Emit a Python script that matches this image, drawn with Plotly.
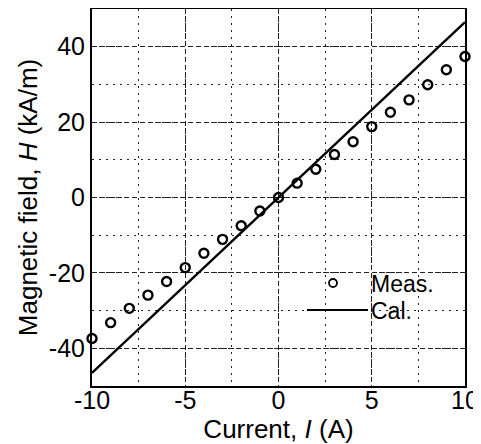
import plotly.graph_objects as go

# Data
meas_current = [-10, -9, -8, -7, -6, -5, -4, -3, -2, -1, 0, 1, 2, 3, 4, 5, 6, 7, 8, 9, 10]
meas_field = [-37.4, -33.2, -29.4, -25.9, -22.3, -18.6, -14.8, -11.1, -7.5, -3.6, 0.0,
              3.8, 7.5, 11.4, 14.8, 18.8, 22.6, 25.9, 29.9, 33.9, 37.4]
cal_current = [-10, 10]
cal_field = [-46.5, 46.5]

x_ticks = [-10, -5, 0, 5, 10]
y_ticks = [-40, -20, 0, 20, 40]
legend_labels = ["Meas.", "Cal."]

FONT = "Liberation Sans, Arial, sans-serif"
GRID = "#222222"

# The page body adds an 8px offset; figure is sized to fit the 481x444 window
OFF = 8
W, H = 481 - OFF, 444 - OFF
# plot area edges in window pixels (from reference)
L, R, T, B = 92, 465, 9, 386

fig = go.Figure()
fig.add_trace(go.Scatter(
    x=cal_current, y=cal_field, mode="lines", name=legend_labels[1],
    line=dict(color="black", width=2.4), showlegend=False, cliponaxis=True))
fig.add_trace(go.Scatter(
    x=meas_current, y=meas_field, mode="markers", name=legend_labels[0],
    marker=dict(symbol="circle-open", size=9, color="black", line=dict(width=2.4, color="black")),
    showlegend=False, cliponaxis=False))

axis_common = dict(
    showline=True, linecolor="black", linewidth=2, mirror=True,
    showgrid=True, gridcolor=GRID, gridwidth=1, griddash="5px,3px",
    zeroline=False, ticks="", color="black", automargin=False,
    tickfont=dict(family=FONT, size=25, color="black"),
)

fig.update_xaxes(
    range=[-10, 10], tickvals=x_ticks, ticktext=[str(v) for v in x_ticks],
    ticklabelstandoff=-9,
    minor=dict(dtick=2.5, tick0=0, showgrid=True, gridcolor=GRID, gridwidth=1, griddash="2px,5px"),
    title=dict(text="Current, <i>I</i> (A)", font=dict(family=FONT, size=26, color="black"), standoff=0),
    **axis_common)
fig.update_yaxes(
    range=[-50, 50], tickvals=y_ticks, ticktext=[str(v) for v in y_ticks],
    minor=dict(dtick=10, tick0=0, showgrid=True, gridcolor=GRID, gridwidth=1, griddash="2px,5px"),
    title=dict(text="Magnetic field, <i>H</i> (kA/m)", font=dict(family=FONT, size=26, color="black"), standoff=4),
    **axis_common)

# Manual legend (layout decoration in paper coordinates)
def px(x):
    return (x - L) / (R - L)
def py(y):
    return (B - y) / (B - T)

fig.add_shape(type="circle", xref="paper", yref="paper",
              xsizemode="pixel", ysizemode="pixel",
              xanchor=px(333), yanchor=py(283), x0=-4, x1=4, y0=-4, y1=4,
              line=dict(color="black", width=1.8))
fig.add_shape(type="line", xref="paper", yref="paper",
              x0=px(307), x1=px(368), y0=py(310), y1=py(310),
              line=dict(color="black", width=2.2))
fig.add_annotation(x=px(369), y=py(283.5), xref="paper", yref="paper",
                   text=legend_labels[0], showarrow=False, xanchor="left", yanchor="middle",
                   font=dict(family=FONT, size=23, color="black"))
fig.add_annotation(x=px(369), y=py(310.5), xref="paper", yref="paper",
                   text=legend_labels[1], showarrow=False, xanchor="left", yanchor="middle",
                   font=dict(family=FONT, size=23, color="black"))

fig.update_layout(
    width=W, height=H,
    margin=dict(l=L - OFF, r=W - (R - OFF), t=T - OFF, b=H - (B - OFF), pad=0),
    paper_bgcolor="white", plot_bgcolor="white",
    showlegend=False,
    font=dict(family=FONT, color="black"),
)

fig.write_html("out.html")
